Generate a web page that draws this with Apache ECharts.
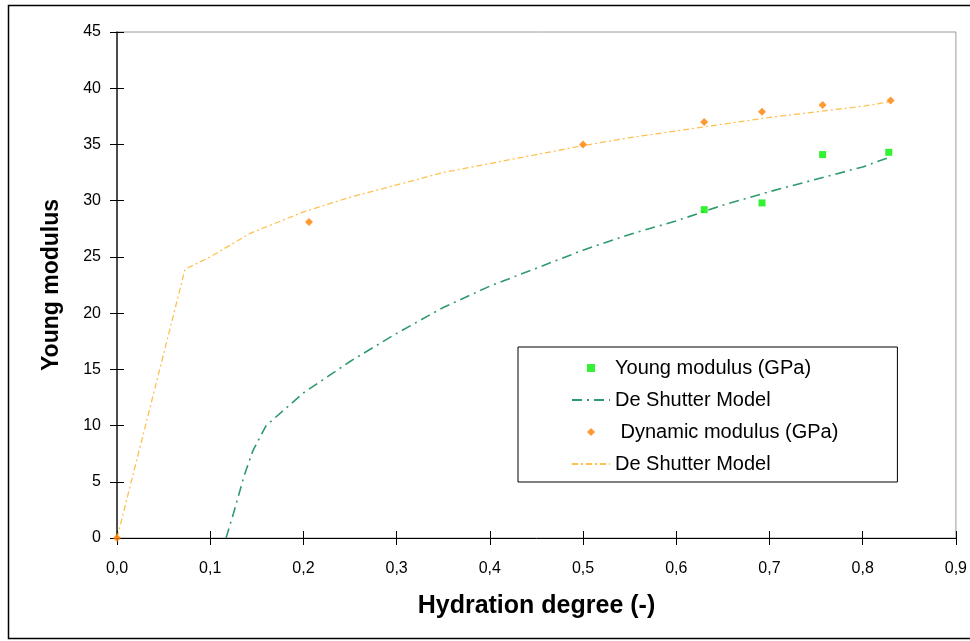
<!DOCTYPE html>
<html>
<head>
<meta charset="utf-8">
<style>
  html, body { margin: 0; padding: 0; background: #fff; }
  #main { width: 970px; height: 641px; }
</style>
<script src="https://cdn.jsdelivr.net/npm/echarts@6/dist/echarts.min.js"></script>
</head>
<body>
<div id="main"></div>
<script>
// measured points (hydration degree, modulus GPa)
let youngData = [[0.63, 29.2], [0.692, 29.8], [0.757, 34.1], [0.828, 34.3]];
let dynamicData = [[0, 0], [0.206, 28.1], [0.5, 35.0], [0.63, 37.0], [0.692, 37.9], [0.757, 38.5], [0.83, 38.9]];
// De Shutter model curves
let youngModel = [[0.117, 0], [0.125, 2.2], [0.137, 5.7], [0.146, 7.8], [0.16, 10], [0.2, 12.9], [0.25, 15.7],
  [0.3, 18.2], [0.35, 20.5], [0.4, 22.4], [0.45, 24.0], [0.5, 25.6], [0.55, 27.0], [0.6, 28.2],
  [0.65, 29.6], [0.7, 30.8], [0.75, 31.9], [0.8, 33.0], [0.83, 33.9]];
let dynamicModel = [[0, 0], [0.073, 23.9], [0.1, 25.0], [0.143, 27.1], [0.2, 29.0], [0.25, 30.3], [0.3, 31.4],
  [0.35, 32.5], [0.4, 33.3], [0.45, 34.1], [0.5, 34.9], [0.55, 35.6], [0.6, 36.2], [0.65, 36.8],
  [0.7, 37.4], [0.75, 37.9], [0.8, 38.4], [0.83, 38.8]];

let chartDom = document.getElementById('main');
let myChart = echarts.init(chartDom);
let font = 'Arial, "Liberation Sans", sans-serif';

let fmtX = function (v) {
  return v.toFixed(1).replace('.', ',');
};

let option = {
  animation: false,
  backgroundColor: '#fff',
  textStyle: { fontFamily: font },
  // outer frame
  graphic: [{
    type: 'rect',
    left: 6,
    top: 3,
    shape: { width: 975, height: 633 },
    style: { fill: 'none', stroke: '#000', lineWidth: 1.5 },
    silent: true
  }],
  grid: {
    left: 117,
    top: 32,
    right: 13,
    bottom: 103,
    show: true,
    borderColor: '#9a9a9a',
    borderWidth: 1
  },
  legend: {
    orient: 'vertical',
    left: 518,
    top: 347,
    itemWidth: 38,
    itemHeight: 8,
    itemGap: 12,
    padding: [11, 59, 8, 53],
    borderColor: '#000',
    borderWidth: 1,
    backgroundColor: '#fff',
    textStyle: { fontSize: 20, color: '#000', fontFamily: font },
    data: [
      { name: 'Young modulus (GPa)', icon: 'path://M0,0L1,0L1,1L0,1Z' },
      { name: 'De Shutter Model', itemStyle: { opacity: 0 } },
      { name: ' Dynamic modulus (GPa)', icon: 'path://M1,0L2,1L1,2L0,1Z' },
      { name: 'De Shutter Model ', itemStyle: { opacity: 0 } }
    ]
  },
  xAxis: [{
    type: 'value',
    min: 0,
    max: 0.9,
    interval: 0.1,
    name: 'Hydration degree (-)',
    nameLocation: 'middle',
    nameGap: 56,
    nameTextStyle: { fontSize: 25, fontWeight: 'bold', color: '#000', fontFamily: font },
    axisLine: { onZero: false, lineStyle: { color: '#000', width: 1 } },
    axisTick: { show: true, length: 7, lineStyle: { color: '#000' } },
    axisLabel: { fontSize: 16, color: '#000', margin: 23, formatter: fmtX },
    splitLine: { show: false }
  }, {
    // inner half of crossing ticks
    type: 'value',
    position: 'bottom',
    min: 0,
    max: 0.9,
    interval: 0.1,
    axisLine: { show: false },
    axisTick: { show: true, inside: true, length: 7, lineStyle: { color: '#000' } },
    axisLabel: { show: false },
    splitLine: { show: false }
  }],
  yAxis: [{
    type: 'value',
    min: 0,
    max: 45,
    interval: 5,
    name: 'Young modulus',
    nameLocation: 'middle',
    nameGap: 54,
    nameTextStyle: { fontSize: 23, fontWeight: 'bold', color: '#000', fontFamily: font },
    axisLine: { show: true, onZero: false, lineStyle: { color: '#222', width: 1.5 } },
    axisTick: { show: true, length: 7, lineStyle: { color: '#000' } },
    axisLabel: { fontSize: 16, color: '#000', margin: 16 },
    splitLine: { show: false }
  }, {
    type: 'value',
    position: 'left',
    min: 0,
    max: 45,
    interval: 5,
    axisLine: { show: false },
    axisTick: { show: true, inside: true, length: 7, lineStyle: { color: '#000' } },
    axisLabel: { show: false },
    splitLine: { show: false }
  }],
  series: [
    {
      name: 'Young modulus (GPa)',
      type: 'scatter',
      symbol: 'rect',
      symbolSize: 7,
      itemStyle: { color: '#00ee00' },
      data: youngData,
      z: 5
    },
    {
      name: 'De Shutter Model',
      type: 'line',
      showSymbol: false,
      lineStyle: { color: '#2f9a6c', width: 1.6, type: [10, 5, 2, 5] },
      itemStyle: { color: '#2f9a6c' },
      data: youngModel
    },
    {
      name: ' Dynamic modulus (GPa)',
      type: 'scatter',
      symbol: 'diamond',
      symbolSize: 8,
      itemStyle: { color: '#ff7f00' },
      data: dynamicData,
      z: 5
    },
    {
      name: 'De Shutter Model ',
      type: 'line',
      showSymbol: false,
      lineStyle: { color: '#ffc050', width: 1.3, type: [6, 3, 2, 3] },
      itemStyle: { color: '#ffc050' },
      data: dynamicModel
    }
  ]
};

option && myChart.setOption(option);
</script>
</body>
</html>
